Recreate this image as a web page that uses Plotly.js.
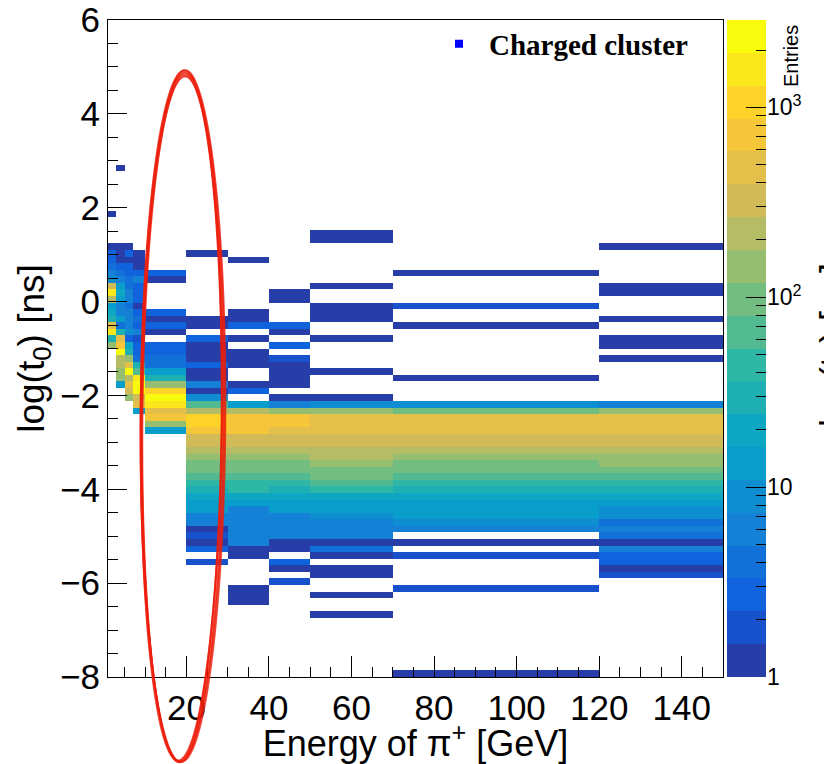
<!DOCTYPE html>
<html><head><meta charset="utf-8">
<script src="https://cdn.plot.ly/plotly-3.0.1.min.js"></script>
<style>html,body{margin:0;padding:0;background:#fff;} #chart{width:824px;height:764px;}</style>
</head><body><div id="chart"></div>
<script>
// ---------------- DATA ----------------
// x bin edges of the 2-D histogram (Energy of pi+ [GeV])
const xEdges = [1, 3, 5, 7, 10, 20, 30, 40, 50, 70, 120, 150];
// y binning: log(t0) [ns]
const yLow = -8, yHigh = 6, yBins = 100;
// colour (z) axis range in entries
const zMin = 1, zMax = 2880;
const nContours = 20;
// cells per x column: [y-bin index (0 = bottom), entries]
const cells_1_3 = [[70,1],[65,1],[64,3],[63,3],[62,4],[61,7],[60,9],[59,300],[58,1600],[57,220],[56,13],[55,20],[54,30],[53,480],[52,1600],[51,30],[50,150]];
const cells_3_5 = [[77,1],[65,1],[64,1],[63,1],[62,3],[61,4],[60,7],[59,13],[58,20],[57,13],[56,7],[55,7],[54,13],[53,4],[52,30],[51,480],[50,700],[49,2400],[48,220],[47,220],[46,150],[45,150],[44,13]];
const cells_5_7 = [[65,1],[64,3],[63,1],[62,3],[61,3],[60,4],[59,4],[58,7],[57,7],[56,4],[55,7],[54,7],[53,7],[52,9],[51,3],[50,20],[49,30],[48,150],[47,480],[46,2400],[45,220],[44,480],[43,320],[42,150]];
const cells_7_10 = [[64,1],[63,1],[62,1],[61,3],[60,7],[59,3],[58,3],[57,3],[56,1],[55,3],[54,4],[53,3],[52,7],[51,2],[50,3],[49,3],[48,4],[47,30],[46,65],[45,1600],[44,2400],[43,2400],[42,320],[41,480],[40,13]];
const cells_10_20 = [[61,3],[60,1],[55,3],[54,1],[53,3],[52,1],[50,3],[49,3],[48,4],[47,4],[46,13],[45,25],[44,150],[43,1000],[42,2400],[41,1600],[40,480],[39,700],[38,150],[37,13]];
const cells_20_30 = [[64,1],[54,1],[53,1],[51,3],[50,1],[49,1],[48,1],[47,3],[46,1],[45,1],[44,7],[43,1],[42,9],[41,65],[40,260],[39,1000],[38,1000],[37,700],[36,320],[35,320],[34,220],[33,150],[32,100],[31,100],[30,65],[29,45],[28,30],[27,20],[26,13],[25,13],[24,6],[23,6],[22,1],[21,2],[20,1],[19,3],[17,2]];
const cells_30_40 = [[63,1],[55,1],[54,1],[53,3],[51,1],[49,1],[48,1],[47,1],[44,1],[43,3],[41,13],[40,220],[39,700],[38,700],[37,700],[36,320],[35,320],[34,220],[33,150],[32,100],[31,100],[30,65],[29,45],[28,45],[27,20],[26,13],[25,6],[24,7],[23,7],[22,6],[21,6],[20,6],[19,1],[18,1],[13,1],[12,1],[11,1]];
const cells_40_50 = [[58,1],[57,1],[53,3],[52,1],[50,3],[48,2],[47,1],[46,1],[45,1],[44,1],[42,1],[41,6],[40,150],[39,700],[38,700],[37,480],[36,320],[35,320],[34,220],[33,150],[32,100],[31,100],[30,65],[29,45],[28,30],[27,20],[26,13],[25,13],[24,6],[23,6],[22,6],[21,6],[20,1],[19,1],[17,3],[16,1],[14,2]];
const cells_50_70 = [[67,1],[66,1],[59,1],[56,1],[55,1],[54,1],[51,1],[46,1],[42,1],[41,10],[40,130],[39,480],[38,480],[37,480],[36,320],[35,320],[34,220],[33,220],[32,150],[31,100],[30,100],[29,65],[28,45],[27,20],[26,13],[25,13],[24,9],[23,5],[22,5],[21,5],[20,1],[19,4],[18,1],[16,1],[15,1],[12,1],[9,1]];
const cells_70_120 = [[61,1],[56,2],[53,1],[45,1],[41,9],[40,100],[39,480],[38,480],[37,480],[36,320],[35,320],[34,220],[33,150],[32,100],[31,100],[30,65],[29,45],[28,30],[27,20],[26,13],[25,13],[24,13],[23,9],[22,5],[20,1],[18,2],[13,2],[0,1]];
const cells_120_150 = [[65,1],[59,1],[58,1],[54,1],[51,1],[50,1],[48,1],[41,6],[40,150],[39,480],[38,480],[37,480],[36,320],[35,320],[34,220],[33,150],[32,150],[31,100],[30,65],[29,45],[28,30],[27,20],[26,13],[25,9],[24,9],[23,4],[22,7],[21,4],[20,1],[19,6],[18,3],[17,3],[16,1],[15,2]];
// colour-axis labels
const zTickVals = [1, 10, 100, 1000];
const zTickText = ['1', '10', '10<sup>2</sup>', '10<sup>3</sup>'];
const legendName = 'Charged cluster';

// ---------------- BUILD ----------------
const columns = [cells_1_3, cells_3_5, cells_5_7, cells_7_10, cells_10_20, cells_20_30, cells_30_40, cells_40_50, cells_50_70, cells_70_120, cells_120_150];
const yEdges = [];
for (let i = 0; i <= yBins; i++) yEdges.push(yLow + (yHigh - yLow) * i / yBins);
const z = [];
for (let r = 0; r < yBins; r++) z.push(new Array(columns.length).fill(null));
columns.forEach((cells, c) => cells.forEach(([row, n]) => { z[row][c] = Math.log10(n); }));

const logMin = Math.log10(zMin), logMax = Math.log10(zMax);

// ROOT kBird palette
const bStops = [0.0, 0.125, 0.25, 0.375, 0.5, 0.625, 0.75, 0.875, 1.0];
const bR = [0.2082, 0.0592, 0.0780, 0.0232, 0.1802, 0.5301, 0.8186, 0.9956, 0.9764];
const bG = [0.1664, 0.3599, 0.5041, 0.6419, 0.7178, 0.7492, 0.7328, 0.7862, 0.9832];
const bB = [0.5293, 0.8684, 0.8385, 0.7914, 0.6425, 0.4662, 0.3499, 0.1968, 0.0539];
function bird(f) {
  let i = 0;
  while (i < bStops.length - 2 && f > bStops[i + 1]) i++;
  const t = (f - bStops[i]) / (bStops[i + 1] - bStops[i]);
  const c = a => Math.round(255 * (a[i] + (a[i + 1] - a[i]) * t));
  return `rgb(${c(bR)},${c(bG)},${c(bB)})`;
}
const colorscale = [];
for (let k = 0; k < nContours; k++) {
  const col = bird(Math.min(1, Math.floor((k + 0.99) * 255 / nContours) / 254));
  colorscale.push([k / nContours, col]);
  colorscale.push([(k + 1) / nContours, col]);
}
// palette strip (colour axis)
const bandEdges = [], bandZ = [];
for (let k = 0; k <= nContours; k++) bandEdges.push(logMin + (logMax - logMin) * k / nContours);
for (let k = 0; k < nContours; k++) bandZ.push([(bandEdges[k] + bandEdges[k + 1]) / 2]);
const zMinor = [];
for (let d = 0; d < 4; d++) for (let m = 2; m <= 9; m++) { const v = Math.log10(m * Math.pow(10, d)); if (v <= logMax) zMinor.push(v); }

// ---------------- LAYOUT ----------------
const W = 824, H = 764, L = 108, R = 58, T = 20, B = 87;
const pw = W - L - R, ph = H - T - B;
const px2x = p => (p - L) / pw;
const py2y = p => (H - B - p) / ph;
const mainRight = px2x(723);
const font = 'Liberation Sans, Arial, Helvetica, sans-serif';

// hand-drawn red ellipse (annotation)
function ellipsePath(cx, cy, a, b, rot) {
  const th = rot * Math.PI / 180; let s = '';
  for (let i = 0; i <= 140; i++) {
    const t = 2 * Math.PI * i / 140;
    const ex = a * Math.cos(t), ey = b * Math.sin(t);
    const X = cx + ex * Math.cos(th) - ey * Math.sin(th);
    const Y = cy + ex * Math.sin(th) + ey * Math.cos(th);
    s += (i ? 'L' : 'M') + px2x(X).toFixed(5) + ',' + py2y(Y).toFixed(5);
  }
  return s + 'Z';
}
const strokes = [[182.5, 417, 41, 345, 0.4], [182, 418, 39.5, 343, 0.5], [183, 416, 42.5, 346, 0.3],
                 [181.5, 418.5, 40.5, 342, 0.6], [182.5, 417.5, 42, 344, 0.4], [182, 416.5, 40, 346, 0.45]];
const shapes = strokes.map(s => ({
  type: 'path', xref: 'paper', yref: 'paper', layer: 'above',
  path: ellipsePath(...s), line: { color: 'rgba(236,30,12,0.8)', width: 1.7 }
}));

const data = [
  { type: 'heatmap', x: xEdges, y: yEdges, z: z, zmin: logMin, zmax: logMax, colorscale: colorscale,
    showscale: false, hoverinfo: 'skip', xaxis: 'x', yaxis: 'y' },
  { type: 'heatmap', x: [0, 1], y: bandEdges, z: bandZ, zmin: logMin, zmax: logMax, colorscale: colorscale,
    showscale: false, hoverinfo: 'skip', xaxis: 'x2', yaxis: 'y2' },
  { type: 'scatter', mode: 'markers', x: [null], y: [null], name: '<b>' + legendName + '</b>',
    marker: { symbol: 'square', size: 8, color: '#0000ff' }, showlegend: true, xaxis: 'x', yaxis: 'y' }
];

const layout = {
  width: W, height: H, margin: { l: L, r: R, t: T, b: B },
  paper_bgcolor: '#fff', plot_bgcolor: '#fff',
  xaxis: { domain: [0, mainRight], range: [1, 150], anchor: 'y', tickmode: 'linear', tick0: 0, dtick: 20,
    ticks: 'inside', ticklen: 21, tickcolor: '#000', tickwidth: 1,
    minor: { tick0: 0, dtick: 5, ticks: 'inside', ticklen: 10, tickcolor: '#000', tickwidth: 1 },
    showline: true, linecolor: '#000', linewidth: 1, mirror: true, showgrid: false, zeroline: false,
    tickfont: { family: font, size: 35, color: '#000' },
    title: { text: 'Energy of π<sup>+</sup> [GeV]', font: { family: font, size: 36, color: '#000' }, standoff: 4 } },
  yaxis: { domain: [0, 1], range: [-8, 6], anchor: 'x', tickmode: 'linear', tick0: 0, dtick: 2,
    ticks: 'inside', ticklen: 19, tickcolor: '#000', tickwidth: 1,
    minor: { tick0: 0, dtick: 0.5, ticks: 'inside', ticklen: 10, tickcolor: '#000', tickwidth: 1 },
    showline: true, linecolor: '#000', linewidth: 1, mirror: true, showgrid: false, zeroline: false,
    tickfont: { family: font, size: 35, color: '#000' },
    title: { text: 'log(t<sub>0</sub>) [ns]', font: { family: font, size: 37, color: '#000' }, standoff: 4 } },
  xaxis2: { domain: [px2x(727), px2x(766)], range: [0, 1], anchor: 'y2', visible: false, fixedrange: true },
  yaxis2: { domain: [0, 1], range: [logMin, logMax], anchor: 'x2', side: 'right',
    tickmode: 'array', tickvals: zTickVals.map(v => Math.log10(v)), ticktext: zTickText,
    ticks: 'inside', ticklen: 20, tickcolor: '#000', tickwidth: 1,
    minor: { tickmode: 'array', tickvals: zMinor, ticks: 'inside', ticklen: 10, tickcolor: '#000', tickwidth: 1 },
    showline: false, showgrid: false, zeroline: false,
    tickfont: { family: font, size: 23, color: '#000' } },
  showlegend: true,
  legend: { x: px2x(429), y: py2y(44), xanchor: 'left', yanchor: 'middle', itemwidth: 50,
    bgcolor: 'rgba(0,0,0,0)', borderwidth: 0,
    font: { family: 'Liberation Serif, Times New Roman, serif', size: 29, color: '#000' } },
  shapes: shapes,
  annotations: [
    { text: 'Entries', xref: 'paper', yref: 'paper', x: px2x(791), y: py2y(56), xanchor: 'center', yanchor: 'middle',
      textangle: -90, showarrow: false, font: { family: font, size: 20, color: '#000' } },
    { text: 'log(t<sub>0</sub>) [ns]', xref: 'paper', yref: 'paper', x: px2x(836), y: py2y(345), xanchor: 'center', yanchor: 'middle',
      textangle: -90, showarrow: false, font: { family: font, size: 36, color: '#000' } }
  ]
};

Plotly.newPlot('chart', data, layout, { staticPlot: true, displayModeBar: false });
</script></body></html>
